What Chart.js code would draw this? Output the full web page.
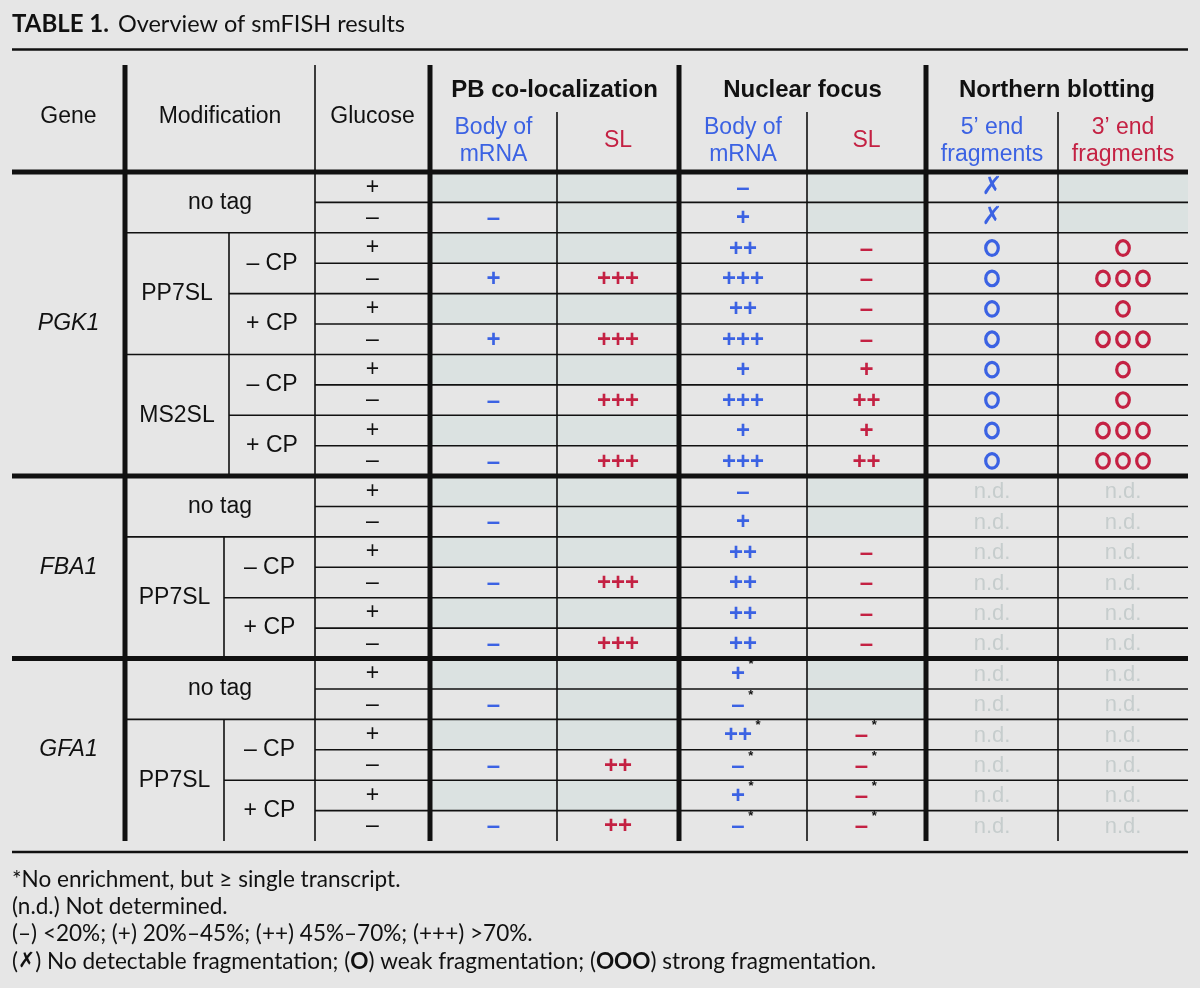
<!DOCTYPE html>
<html>
<head>
<meta charset="utf-8">
<script src="https://cdn.jsdelivr.net/npm/chart.js@4.4.1/dist/chart.umd.min.js"></script>
<style>
  html, body { margin: 0; padding: 0; background: #e6e6e6; }
  #wrap { width: 1200px; height: 988px; }
</style>
</head>
<body>
<div id="wrap"><canvas id="smfish" width="1200" height="988"></canvas></div>
<script>
// ---- table content ----
const genes = ['PGK1', 'FBA1', 'GFA1'];
const geneOfRow = [0,0,0,0,0,0,0,0,0,0, 1,1,1,1,1,1, 2,2,2,2,2,2];
const modification = [
  'no tag','no tag','PP7SL','PP7SL','PP7SL','PP7SL','MS2SL','MS2SL','MS2SL','MS2SL',
  'no tag','no tag','PP7SL','PP7SL','PP7SL','PP7SL',
  'no tag','no tag','PP7SL','PP7SL','PP7SL','PP7SL'
];
const capsid = [
  '','','– CP','– CP','+ CP','+ CP','– CP','– CP','+ CP','+ CP',
  '','','– CP','– CP','+ CP','+ CP',
  '','','– CP','– CP','+ CP','+ CP'
];
const glucose = ['+','–','+','–','+','–','+','–','+','–','+','–','+','–','+','–','+','–','+','–','+','–'];

// PB co-localization
const pbBody = ['','–','','+','','+','','–','','–', '','–','','–','','–', '','–','','–','','–'];
const pbSL   = ['','','','+++','','+++','','+++','','+++', '','','','+++','','+++', '','','','++','','++'];
// Nuclear focus
const nucBody = ['–','+','++','+++','++','+++','+','+++','+','+++', '–','+','++','++','++','++', '+*','–*','++*','–*','+*','–*'];
const nucSL   = ['','','–','–','–','–','+','++','+','++', '','','–','–','–','–', '','','–*','–*','–*','–*'];
// Northern blotting
const fiveEnd  = ['✗','✗','O','O','O','O','O','O','O','O', 'n.d.','n.d.','n.d.','n.d.','n.d.','n.d.', 'n.d.','n.d.','n.d.','n.d.','n.d.','n.d.'];
const threeEnd = ['','','O','OOO','O','OOO','O','O','OOO','OOO', 'n.d.','n.d.','n.d.','n.d.','n.d.','n.d.', 'n.d.','n.d.','n.d.','n.d.','n.d.','n.d.'];

const groupTitles = ['PB co-localization', 'Nuclear focus', 'Northern blotting'];
const subTitles = [['Body of','mRNA'], ['SL'], ['Body of','mRNA'], ['SL'], ['5’ end','fragments'], ['3’ end','fragments']];
const footnotes = [
  [['*', 'r'], ['No enrichment, but ', 'r'], ['≥', 'r'], [' single transcript.', 'r']],
  [['(n.d.) Not determined.', 'r']],
  [['(–) <20%; (+) 20%–45%; (++) 45%–70%; (+++) >70%.', 'r']],
  [['(', 'r'], ['✗', 'x'], [') No detectable fragmentation; (', 'r'], ['O', 'b'], [') weak fragmentation; (', 'r'], ['OOO', 'b'], [') strong fragmentation.', 'r']]
];

// ---- layout (x in page units, y in row units) ----
const BLUE = '#3b62e3', RED = '#c42143', ND = '#c6cdcd', SHADE = '#dbe2e1', BG = '#e6e6e6', INK = '#111';
const tableLeft = 12, tableRight = 1188;
const geneCol = [12, 125], modCol = [125, 315], gluCol = [315, 430];
const cpSplit = [229, 224, 224];
const dataCols = [[430, 557], [557, 679], [679, 807], [807, 926], [926, 1058], [1058, 1188]];
const dataValues = [pbBody, pbSL, nucBody, nucSL, fiveEnd, threeEnd];
const dataColors = [BLUE, RED, BLUE, RED, BLUE, RED];
const thickAt = [0, 10, 16];
const hy = { title: -4.86, rule: -4.03, top: -3.52, group: -2.70, subTop: -1.97, main: -1.81, sub1: -1.45, sub2: -0.56, subMid: -1.02 };
const fy = { rule: 22.36, lines: [23.28, 24.17, 25.06, 25.95] };
const nRows = glucose.length;
const FONT = '"Liberation Sans", Arial, sans-serif';
const NOTE_FONT = 'Lato, "Open Sans", sans-serif';

function spans(keyFn) {
  const out = [];
  for (let r = 0; r < nRows; r++) {
    const k = keyFn(r);
    const last = out[out.length - 1];
    if (last && last.key === k) last.end = r + 1;
    else out.push({ key: k, start: r, end: r + 1 });
  }
  return out;
}

const mid = a => (a[0] + a[1]) / 2;

// every labelled cell becomes a point of the scatter dataset
const cells = [];
spans(r => genes[geneOfRow[r]]).forEach(s => {
  cells.push({ x: mid(geneCol), y: (s.start + s.end) / 2, text: s.key, kind: 'gene' });
});
spans(r => geneOfRow[r] + '|' + modification[r]).forEach(s => {
  const g = geneOfRow[s.start];
  const hasCp = capsid[s.start] !== '';
  const x = hasCp ? (modCol[0] + cpSplit[g]) / 2 : mid(modCol);
  cells.push({ x: x, y: (s.start + s.end) / 2, text: modification[s.start], kind: 'label' });
});
spans(r => geneOfRow[r] + '|' + modification[r] + '|' + capsid[r]).forEach(s => {
  if (capsid[s.start] === '') return;
  const g = geneOfRow[s.start];
  cells.push({ x: (cpSplit[g] + modCol[1]) / 2, y: (s.start + s.end) / 2, text: capsid[s.start], kind: 'label' });
});
glucose.forEach((v, r) => cells.push({ x: mid(gluCol), y: r + 0.5, text: v, kind: 'glucose' }));
dataValues.forEach((col, c) => {
  col.forEach((v, r) => {
    if (v !== '') cells.push({ x: mid(dataCols[c]), y: r + 0.5, text: v, kind: 'mark', color: dataColors[c] });
  });
});

function txt(ctx, s, x, y, font, color, align) {
  ctx.font = font;
  ctx.fillStyle = color;
  ctx.textAlign = align || 'center';
  ctx.textBaseline = 'middle';
  ctx.fillText(s, x, y);
}

function drawMark(ctx, x, y, value, color) {
  const star = value.endsWith('*');
  const v = star ? value.slice(0, -1) : value;
  if (v === 'n.d.') {
    txt(ctx, v, x, y + 1, '22px ' + FONT, ND);
    return;
  }
  if (/^O+$/.test(v)) {
    ctx.strokeStyle = color;
    ctx.lineWidth = 3.2;
    for (let i = 0; i < v.length; i++) {
      const cx = x + (i - (v.length - 1) / 2) * 20;
      ctx.beginPath();
      ctx.ellipse(cx, y, 6.3, 7.3, 0, 0, Math.PI * 2);
      ctx.stroke();
    }
    return;
  }
  if (v === '✗') {
    txt(ctx, v, x, y, 'bold 25px "DejaVu Sans", sans-serif', color);
    return;
  }
  const f = 'bold 24px ' + FONT;
  ctx.font = f;
  const w = ctx.measureText(v).width;
  const sx = star ? x - 5 : x;
  txt(ctx, v, sx, y + 1, f, color);
  if (star) txt(ctx, '*', sx + w / 2 + 6, y - 9, 'bold 13px ' + FONT, INK);
}

const tablePlugin = {
  id: 'smfishTable',
  beforeDraw(chart) {
    const ctx = chart.ctx;
    ctx.save();
    ctx.fillStyle = BG;
    ctx.fillRect(0, 0, chart.width, chart.height);
    ctx.restore();
  },
  beforeDatasetsDraw(chart) {
    const ctx = chart.ctx, X = chart.scales.x, Y = chart.scales.y;
    const px = v => X.getPixelForValue(v), py = v => Y.getPixelForValue(v);
    ctx.save();
    // shaded (empty) cells
    ctx.fillStyle = SHADE;
    dataValues.forEach((col, c) => col.forEach((v, r) => {
      if (v === '') ctx.fillRect(px(dataCols[c][0]), py(r), px(dataCols[c][1]) - px(dataCols[c][0]), py(r + 1) - py(r));
    }));

    ctx.strokeStyle = INK;
    const hline = (r, x0, x1, w) => { ctx.lineWidth = w; ctx.beginPath(); ctx.moveTo(px(x0), py(r)); ctx.lineTo(px(x1), py(r)); ctx.stroke(); };
    const vline = (x, r0, r1, w) => { ctx.lineWidth = w; ctx.beginPath(); ctx.moveTo(px(x), py(r0)); ctx.lineTo(px(x), py(r1)); ctx.stroke(); };

    // thin row lines in the glucose + data area
    for (let r = 1; r < nRows; r++) {
      if (thickAt.includes(r)) continue;
      hline(r, gluCol[0], tableRight, 1.6);
    }
    // modification group lines
    spans(r => geneOfRow[r] + '|' + modification[r]).forEach(s => {
      if (!thickAt.includes(s.start)) hline(s.start, modCol[0], modCol[1], 1.6);
      const g = geneOfRow[s.start];
      if (capsid[s.start] !== '') vline(cpSplit[g], s.start, s.end, 1.6);
    });
    spans(r => geneOfRow[r] + '|' + modification[r] + '|' + capsid[r]).forEach(s => {
      const g = geneOfRow[s.start];
      if (capsid[s.start] !== '' && capsid[s.start - 1] === '– CP' && geneOfRow[s.start - 1] === g && modification[s.start - 1] === modification[s.start]) {
        hline(s.start, cpSplit[g], modCol[1], 1.6);
      }
    });
    // verticals
    vline(modCol[1], hy.top, nRows, 1.6);
    [dataCols[1][0], dataCols[3][0], dataCols[5][0]].forEach(x => vline(x, hy.subTop, nRows, 1.6));
    [geneCol[1], gluCol[1], dataCols[2][0], dataCols[4][0]].forEach(x => vline(x, hy.top, nRows, 5));
    // thick horizontals
    thickAt.forEach(r => hline(r, tableLeft, tableRight, 5));
    // rules
    hline(hy.rule, tableLeft, tableRight, 2.5);
    hline(fy.rule, tableLeft, tableRight, 2.5);
    ctx.restore();
  },
  afterDatasetsDraw(chart) {
    const ctx = chart.ctx, X = chart.scales.x, Y = chart.scales.y;
    const px = v => X.getPixelForValue(v), py = v => Y.getPixelForValue(v);
    const meta = chart.getDatasetMeta(0);
    const data = chart.data.datasets[0].data;
    ctx.save();
    meta.data.forEach((pt, i) => {
      const d = data[i];
      if (d.kind === 'gene') txt(ctx, d.text, pt.x, pt.y, 'italic 23px ' + FONT, INK);
      else if (d.kind === 'label') txt(ctx, d.text, pt.x, pt.y, '23px ' + FONT, INK);
      else if (d.kind === 'glucose') txt(ctx, d.text, pt.x, pt.y, '23px ' + FONT, INK);
      else drawMark(ctx, pt.x, pt.y, d.text, d.color);
    });

    // header
    txt(ctx, 'Gene', px(mid(geneCol)), py(hy.main), '23px ' + FONT, INK);
    txt(ctx, 'Modification', px(mid(modCol)), py(hy.main), '23px ' + FONT, INK);
    txt(ctx, 'Glucose', px(mid(gluCol)), py(hy.main), '23px ' + FONT, INK);
    groupTitles.forEach((t, i) => {
      const x = (dataCols[i * 2][0] + dataCols[i * 2 + 1][1]) / 2;
      txt(ctx, t, px(x), py(hy.group), 'bold 24px ' + FONT, INK);
    });
    subTitles.forEach((lines, c) => {
      const x = px(mid(dataCols[c]));
      if (lines.length === 1) txt(ctx, lines[0], x, py(hy.subMid), '23px ' + FONT, dataColors[c]);
      else {
        txt(ctx, lines[0], x, py(hy.sub1), '23px ' + FONT, dataColors[c]);
        txt(ctx, lines[1], x, py(hy.sub2), '23px ' + FONT, dataColors[c]);
      }
    });

    // title
    ctx.font = 'bold 24px ' + NOTE_FONT;
    const tw = ctx.measureText('TABLE 1.').width;
    txt(ctx, 'TABLE 1.', px(tableLeft), py(hy.title), 'bold 24px ' + NOTE_FONT, INK, 'left');
    txt(ctx, 'Overview of smFISH results', px(tableLeft) + tw + 9, py(hy.title), '23.5px ' + NOTE_FONT, INK, 'left');

    // footnotes
    const fonts = { r: '23px ' + NOTE_FONT, b: 'bold 23px ' + NOTE_FONT, x: 'bold italic 21px "DejaVu Sans", sans-serif' };
    footnotes.forEach((runs, i) => {
      ctx.save();
      ctx.translate(px(tableLeft), py(fy.lines[i]));
      ctx.scale(0.98, 1);
      let x = 0;
      runs.forEach(([s, f]) => {
        txt(ctx, s, x, 0, fonts[f], INK, 'left');
        x += ctx.measureText(s).width;
      });
      ctx.restore();
    });
    ctx.restore();
  }
};

new Chart(document.getElementById('smfish'), {
  type: 'scatter',
  data: {
    datasets: [{
      label: 'cells',
      data: cells,
      pointRadius: 0,
      pointHoverRadius: 0
    }]
  },
  options: {
    responsive: false,
    animation: false,
    events: [],
    layout: { padding: { top: 172, bottom: 147, left: 0, right: 0 } },
    plugins: { legend: { display: false }, tooltip: { enabled: false } },
    scales: {
      x: { type: 'linear', min: 0, max: 1200, display: false },
      y: { type: 'linear', min: 0, max: nRows, reverse: true, display: false }
    }
  },
  plugins: [tablePlugin]
});
</script>
</body>
</html>
